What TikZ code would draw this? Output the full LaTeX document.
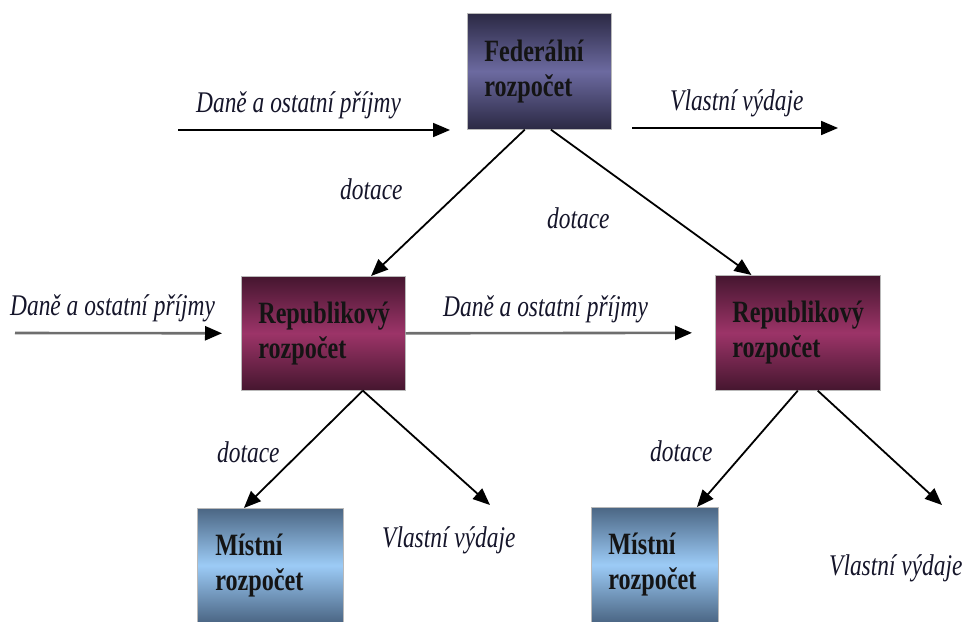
\documentclass[tikz,border=0pt]{standalone}
\usepackage{fontspec}
\setmainfont{Liberation Serif}[FakeStretch=0.78]
\usetikzlibrary{arrows.meta,calc}

\definecolor{fedDark}{HTML}{2B2944}
\definecolor{fedLight}{HTML}{6C6AA0}
\definecolor{repDark}{HTML}{45162F}
\definecolor{repLight}{HTML}{9C3468}
\definecolor{locDark}{HTML}{4B6684}
\definecolor{locLight}{HTML}{9CCBF6}
\definecolor{labelInk}{HTML}{15152A}
\definecolor{flowGray}{HTML}{6E6E6E}

\tikzset{
  budget/.style={anchor=north west, draw=gray!55, line width=0.6pt,
    inner xsep=17pt, inner ysep=0pt, align=left,
    font=\fontsize{31}{35}\selectfont\bfseries, text=black!92},
  fedbox/.style={budget, top color=fedDark, bottom color=fedDark, middle color=fedLight},
  repbox/.style={budget, top color=repDark, bottom color=repDark, middle color=repLight},
  locbox/.style={budget, top color=locDark, bottom color=locDark, middle color=locLight},
  flowlabel/.style={anchor=base west, inner sep=0pt, text=labelInk,
    font=\fontsize{30}{34}\selectfont\itshape},
  flow/.style={line width=1.8pt, draw=black,
    -{Triangle[length=17pt,width=14pt]}},
  grayflow/.style={line width=2.6pt, draw=flowGray,
    -{Triangle[length=17pt,width=14pt,color=black]}},
}

\begin{document}
\begin{tikzpicture}[x=1pt,y=-1pt]
  \useasboundingbox (0,0) rectangle (966,621);

  % budget boxes
  \node[fedbox, minimum width=144pt, minimum height=116pt, text width=110pt]
    (fed) at (467,13) {Federální\\rozpočet};
  \node[repbox, minimum width=164pt, minimum height=114pt, text width=130pt]
    (repL) at (241,276) {Republikový\\rozpočet};
  \node[repbox, minimum width=165pt, minimum height=115pt, text width=131pt]
    (repR) at (715,275) {Republikový\\rozpočet};
  \node[locbox, minimum width=146pt, minimum height=114pt, text width=110pt]
    (locL) at (197,508) {Místní\\rozpočet};
  \node[locbox, minimum width=127pt, minimum height=115pt, text width=93pt]
    (locR) at (591,507) {Místní\\rozpočet};

  % free ends of the flows
  \coordinate (taxInTop) at (178,130);
  \coordinate (taxInTopEnd) at (450,130);
  \coordinate (spendTop) at (632,128);
  \coordinate (spendTopEnd) at (838,128);
  \coordinate (taxInLeft) at (15,333);
  \coordinate (spendL) at (490,505);
  \coordinate (spendR) at (942,505);

  % flows
  \draw[flow] (taxInTop) -- (taxInTopEnd);
  \draw[flow] (spendTop) -- (spendTopEnd);
  \draw[flow] ($(fed.south west)!0.40!(fed.south east)$) -- ($(repL.north west)!0.79!(repL.north east)$);
  \draw[flow] ($(fed.south west)!0.58!(fed.south east)$) -- ($(repR.north west)!0.22!(repR.north east)$);
  \draw[grayflow, shorten >=19pt] (taxInLeft) -- (repL.west);
  \draw[grayflow, shorten >=23pt] (repL.east) -- (repR.west);
  \draw[flow] ($(repL.south west)!0.74!(repL.south east)$) -- ($(locL.north west)!0.32!(locL.north east)$);
  \draw[flow] ($(repL.south west)!0.74!(repL.south east)$) -- (spendL);
  \draw[flow] ($(repR.south west)!0.50!(repR.south east)$) -- ($(locR.north west)!0.83!(locR.north east)$);
  \draw[flow] ($(repR.south west)!0.62!(repR.south east)$) -- (spendR);

  % flow labels
  \node[flowlabel] (lTaxTop) at (196,112) {Daně a ostatní příjmy};
  \node[flowlabel] (lSpendTop) at (670,110) {Vlastní výdaje};
  \node[flowlabel] (lDotL) at (340,199) {dotace};
  \node[flowlabel] (lDotR) at (547,228) {dotace};
  \node[flowlabel] (lTaxLeft) at (10,315) {Daně a ostatní příjmy};
  \node[flowlabel] (lTaxMid) at (443,316) {Daně a ostatní příjmy};
  \node[flowlabel] (lDotLL) at (217,462) {dotace};
  \node[flowlabel] (lSpendL) at (382,547) {Vlastní výdaje};
  \node[flowlabel] (lDotRL) at (650,461) {dotace};
  \node[flowlabel] (lSpendR) at (829,575) {Vlastní výdaje};
\end{tikzpicture}
\end{document}
